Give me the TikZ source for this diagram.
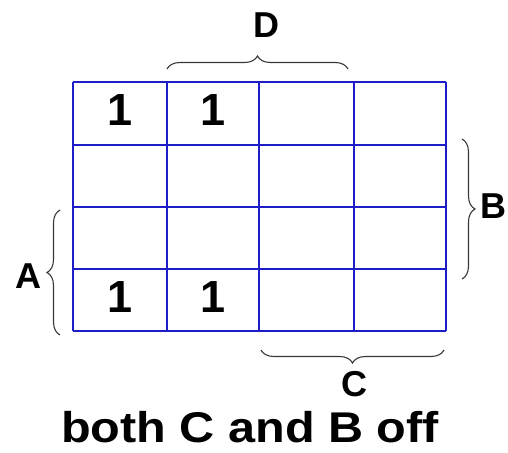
\documentclass[tikz,border=0pt]{standalone}
\usepackage{fontspec}
\setmainfont{Liberation Sans}
\usetikzlibrary{decorations.pathreplacing}
\definecolor{gridblue}{RGB}{30,30,200}
\definecolor{bracegray}{RGB}{55,55,55}
\begin{document}
\begin{tikzpicture}[x=1pt,y=-1pt,
  gridline/.style={draw=gridblue,line width=1.3pt},
  kbrace/.style={draw=bracegray,line width=1.1pt,decorate,decoration={brace,amplitude=13pt}},
  one/.style={font=\fontsize{45}{45}\selectfont\bfseries,inner sep=0pt},
  lbl/.style={font=\fontsize{36}{36}\selectfont\bfseries,inner sep=0pt},
  caption/.style={font=\fontsize{43}{43}\selectfont\bfseries,inner sep=0pt,anchor=base}]
\useasboundingbox (0,0) rectangle (508,452);
% grid
\foreach \x in {73,167,259,354,446} \draw[gridline] (\x,82) -- (\x,331);
\foreach \y in {82,145,207,269,331} \draw[gridline] (73,\y) -- (446,\y);
% ones
\node[one] (c11) at (120,110) {1};
\node[one] (c12) at (213,110) {1};
\node[one] (c41) at (120,297) {1};
\node[one] (c42) at (213,297) {1};
% braces
\draw[kbrace] (167,69) -- (348,69);
\draw[kbrace] (444,350) -- (261,350);
\draw[kbrace] (60,335) -- (60,210);
\draw[kbrace] (462,139) -- (462,279);
% labels
\node[lbl] (D) at (266,25) {D};
\node[lbl] (C) at (354,384) {C};
\node[lbl] (A) at (28,276) {A};
\node[lbl,anchor=east] (B) at (507,206) {B};
\node[caption] (cap) at (250,442) {\scalebox{1.13}[1]{both C and B off}};
\end{tikzpicture}
\end{document}
